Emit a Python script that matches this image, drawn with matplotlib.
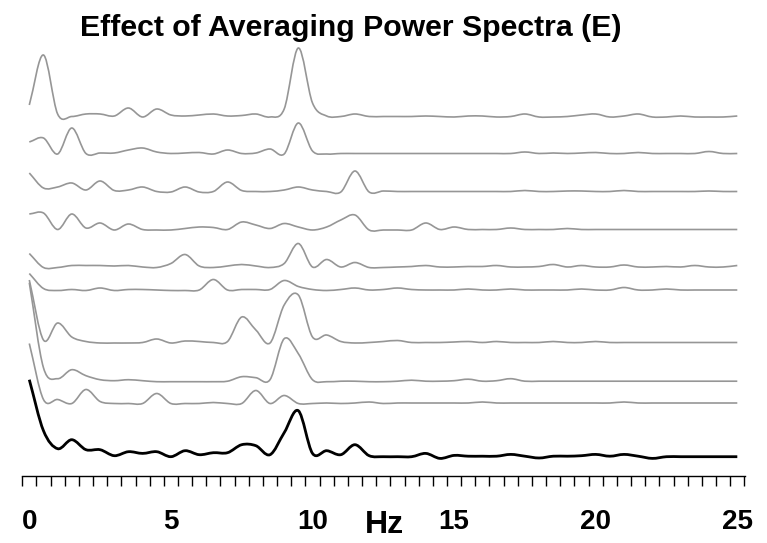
"""
Stacked power spectra and their average (panel E).
"""
import numpy as np
import matplotlib
matplotlib.use("Agg")
import matplotlib.pyplot as plt
from matplotlib.ticker import FixedLocator
from matplotlib.path import Path
from matplotlib.patches import PathPatch

plt.rcParams['font.family'] = ['Liberation Sans', 'DejaVu Sans']

# frequency bins, 0.5 Hz steps
freqs = np.arange(0, 25.01, 0.5)

# power of each single spectrum, top to bottom (height above its own baseline)
spec_1 = [12, 62, 3, 0.5, 3, 3, 1, 9, 0, 8, 2, 1, 2, 3, 1, 1.5, 3, 0, 8, 69,
          14, 1, 0.5, 3, 0.5, 0.5, 0.5, 0.5, 1, 0.5, 0, 1, 1, 0, 0.5, 3, 0, 0,
          0.5, 2, 3, 0, 1, 3, 0, 0, 1, 0, 0, 0, 1]
spec_2 = [12, 16, 0, 26, 0.5, 1, 1, 4, 6, 2, 0.5, 1, 1.5, 0, 4, 0.5, 1, 5, 0,
          31, 3, 0, 0.5, 0.5, 0.5, 0.5, 0.5, 0.5, 0.5, 0.5, 0.5, 0.5, 0.5,
          0.5, 0.5, 2, 0.5, 1, 0.5, 1, 1.5, 0.5, 0.5, 1.5, 0.5, 0.5, 0.5, 0.5,
          2.5, 0.5, 0.5]
spec_3 = [19, 4, 5, 9, 2, 11, 1.5, 2, 5, 0.5, 0, 5, 0, 0.5, 10, 1.5, 0.5, 0.5,
          2, 5, 2, 0.5, 0, 21, 0, 1, 0.5, 0.5, 0.5, 0.5, 0.5, 0.5, 0.5, 0.5,
          0.5, 1.5, 0.5, 0.5, 1, 1, 0.5, 0.5, 1.5, 0.5, 0.5, 0.5, 0.5, 0.5, 1,
          0.5, 0.5]
spec_4 = [16, 17, 0.5, 16, 2, 7, 0, 6, 0.5, 0, 0, 1.5, 3, 2.5, 0.5, 8, 5, 1.5,
          6.5, 3, 0, 3, 10, 15, 0, 0, 0, 0, 7, 0.5, 3, 0.5, 0.5, 0.5, 2, 0.5,
          0.5, 0.5, 1.5, 0.5, 0.5, 0.5, 0.5, 0.5, 0.5, 0.5, 0.5, 0.5, 0.5, 0.5,
          0.5]
spec_5 = [14, 0, 0, 2, 2, 2, 1.5, 2, 0.5, 0, 4, 13, 1.5, 0, 1.5, 3, 1.5, 0, 4,
          24, 0.5, 8, 0.5, 5, 0, 0, 0.5, 1, 2, 0.5, 0.5, 1, 1, 2, 0.5, 0.5, 1,
          3, 0.5, 2, 0.5, 0.5, 2.5, 0.5, 0.5, 1, 0.5, 2, 0.5, 0.5, 2]
spec_6 = [17, 2, 0, 1, 0, 2.5, 0, 1, 1, 0.5, 0, 0, 0.5, 11, 0.5, 1, 1, 1, 10,
          4, 1, 0, 1, 2.5, 0.5, 1, 2.5, 1, 0.5, 0.5, 0.5, 1.5, 0.5, 0.5, 1.5,
          0.5, 0.5, 0.5, 0.5, 1.5, 0.5, 0.5, 3, 0.5, 0.5, 1.5, 0.5, 0.5, 0.5,
          0.5, 0.5]
spec_7 = [63, 3, 20, 6, 1.5, 0, 0, 0, 0.5, 4, 0, 2, 1.5, 0.5, 1.5, 26, 13, 0,
          38, 48, 6, 8, 1.5, 0, 0.5, 1.5, 2.5, 0.5, 0.5, 0.5, 1, 1.5, 0.5, 1.5,
          0.5, 0.5, 0.5, 1.5, 0.5, 0.5, 1.5, 0.5, 0.5, 0.5, 0.5, 0.5, 0.5, 0.5,
          0.5, 0.5, 0.5]
spec_8 = [99, 14, 3, 12, 6, 2, 1, 2, 1, 0, 0, 0, 0, 0, 0.5, 5, 4, 2, 43, 28, 2,
          0, 0.5, 0.5, 0, 0, 0.5, 1.5, 0.5, 0.5, 1, 2.5, 0.5, 1, 3, 0.5, 0.5,
          0.5, 0.5, 0.5, 0.5, 0.5, 0.5, 0.5, 0.5, 0.5, 0.5, 0.5, 0.5, 0.5, 0.5]
spec_9 = [60, 4, 4, 0, 14, 2, 0, 0, 0, 10, 0, 0, 0, 1, 0, 0, 13, 0, 8, 0, 0,
          0.5, 0, 0.5, 1.5, 0, 0.5, 0.5, 0.5, 0.5, 0.5, 0.5, 1.5, 0.5, 0.5,
          0.5, 0.5, 0.5, 0.5, 0.5, 0.5, 0.5, 1.5, 0.5, 0.5, 0.5, 0.5, 0.5, 0.5,
          0.5, 0.5]
# averaged spectrum (black)
spec_avg = [77, 26, 8, 17, 7, 7, 1, 5, 3.3, 5, 0, 6, 2, 4, 4, 12, 11, 2, 24,
            46, 3.3, 6, 2, 12, 1, 0, 0, 0, 3.3, -1.7, 1.3, 0.5, 0.5, 0.5, 2.3,
            0.5, -1.3, 0.5, 0.5, 1, 2.3, 0.5, 2.3, 0.5, -1.7, 0, 0, 0, 0, 0, 0]

singles = [spec_1, spec_2, spec_3, spec_4, spec_5, spec_6, spec_7, spec_8, spec_9]

# vertical baseline of each trace (pixel rows from top)
baselines = [117, 154, 192, 230, 267.5, 290.5, 343, 381.7, 403.5]
avg_baseline = 456.7


def smooth_path(x, y):
    """Catmull-Rom style Bezier path through the points."""
    x = np.asarray(x, float)
    y = np.asarray(y, float)
    h = np.diff(x)
    m = np.gradient(y, x)
    verts = [(x[0], y[0])]
    codes = [Path.MOVETO]
    for i in range(len(x) - 1):
        verts += [(x[i] + h[i] / 3, y[i] + m[i] * h[i] / 3),
                  (x[i + 1] - h[i] / 3, y[i + 1] - m[i + 1] * h[i] / 3),
                  (x[i + 1], y[i + 1])]
        codes += [Path.CURVE4] * 3
    return Path(verts, codes)


W, H = 767, 543
fig = plt.figure(figsize=(W / 100, H / 100), dpi=100)

# axes: x from -0.26 Hz to 25.27 Hz, bottom spine at row 475.7
x_lo, x_hi = -0.26, 25.27
px_per_hz = 28.32
left_px = 29.3 + x_lo * px_per_hz
right_px = 29.3 + x_hi * px_per_hz
axis_row = 475.7
ax = fig.add_axes([left_px / W, 1 - axis_row / H, (right_px - left_px) / W, axis_row / H])
ax.set_xlim(x_lo, x_hi)
ax.set_ylim(axis_row, 0)

for base, spec in zip(baselines, singles):
    ax.add_patch(PathPatch(smooth_path(freqs, base - np.array(spec)), fill=False,
                           edgecolor='#969696', lw=1.2, joinstyle='round'))
ax.add_patch(PathPatch(smooth_path(freqs, avg_baseline - np.array(spec_avg)), fill=False,
                       edgecolor='black', lw=2.0, joinstyle='round'))

for side in ['top', 'right', 'left']:
    ax.spines[side].set_visible(False)
ax.spines['bottom'].set_linewidth(1.0)
ax.set_yticks([])

ax.xaxis.set_major_locator(FixedLocator([0, 5, 10, 15, 20, 25]))
ax.xaxis.set_minor_locator(FixedLocator(np.arange(52) * 0.5 - 0.25))
ax.tick_params(axis='x', which='major', length=0, pad=24, labelsize=20)
ax.tick_params(axis='x', which='minor', length=7.5, width=1.0, direction='out')
for lab in ax.get_xticklabels():
    lab.set_fontweight('bold')

fig.text(384 / W, 1 - 525 / H, 'Hz', ha='center', va='center', fontsize=23, fontweight='bold')
fig.text(351 / W, 1 - 28 / H, 'Effect of Averaging Power Spectra (E)',
         ha='center', va='center', fontsize=21.8, fontweight='bold')

fig.savefig('out.png', dpi=100)
